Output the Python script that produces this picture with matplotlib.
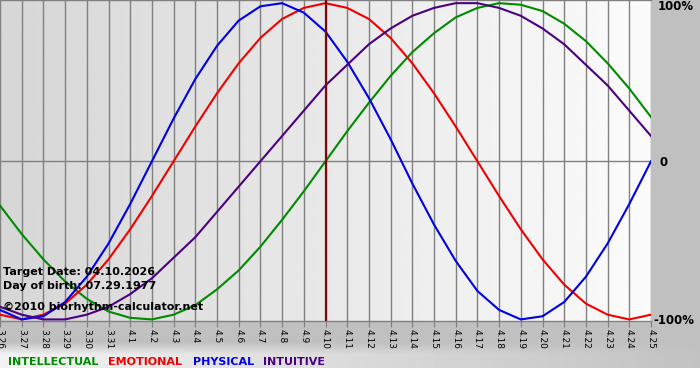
import numpy as np
import matplotlib
matplotlib.use("Agg")
import matplotlib.pyplot as plt

# days shown, 3.26 .. 4.25
dates = ["3.26", "3.27", "3.28", "3.29", "3.30", "3.31",
         "4.1", "4.2", "4.3", "4.4", "4.5", "4.6", "4.7", "4.8", "4.9", "4.10",
         "4.11", "4.12", "4.13", "4.14", "4.15", "4.16", "4.17", "4.18", "4.19",
         "4.20", "4.21", "4.22", "4.23", "4.24", "4.25"]
target_day = "4.10"

# cycle values (-1 .. 1)
intellectual = [-0.28, -0.46, -0.62, -0.76, -0.87, -0.95, -0.99, -1.00, -0.97, -0.91,
                -0.81, -0.69, -0.54, -0.37, -0.19, 0.00, 0.19, 0.37, 0.54, 0.69,
                0.81, 0.91, 0.97, 1.00, 0.99, 0.95, 0.87, 0.76, 0.62, 0.46, 0.28]
emotional = [-0.97, -1.00, -0.97, -0.90, -0.78, -0.62, -0.43, -0.22, 0.00, 0.22,
             0.43, 0.62, 0.78, 0.90, 0.97, 1.00, 0.97, 0.90, 0.78, 0.62,
             0.43, 0.22, 0.00, -0.22, -0.43, -0.62, -0.78, -0.90, -0.97, -1.00, -0.97]
physical = [-0.94, -1.00, -0.98, -0.89, -0.73, -0.52, -0.27, 0.00, 0.27, 0.52,
            0.73, 0.89, 0.98, 1.00, 0.94, 0.82, 0.63, 0.40, 0.14, -0.14,
            -0.40, -0.63, -0.82, -0.94, -1.00, -0.98, -0.89, -0.73, -0.52, -0.27, 0.00]
intuitive = [-0.92, -0.97, -1.00, -1.00, -0.97, -0.92, -0.84, -0.74, -0.61, -0.48,
             -0.32, -0.16, 0.00, 0.16, 0.32, 0.48, 0.61, 0.74, 0.84, 0.92,
             0.97, 1.00, 1.00, 0.97, 0.92, 0.84, 0.74, 0.61, 0.48, 0.32, 0.16]

series = [("INTELLECTUAL", intellectual, "#008a00"),
          ("EMOTIONAL", emotional, "#f00000"),
          ("PHYSICAL", physical, "#0000e6"),
          ("INTUITIVE", intuitive, "#4b0082")]
legend_x = [8, 108, 193, 263]

W, H = 700, 380
fig = plt.figure(figsize=(W / 100, H / 100), dpi=100)

# page background: grey, light band at the bottom
bg = fig.add_axes([0, 0, 1, 1], zorder=-10)
img = np.full((H, W), 0.753)
xs = np.linspace(0, 1, W)
band = 0.95 - 0.19 * xs
for r in range(342, 368):
    t = min(1.0, (r - 342) / 12.0)
    img[r] = 0.753 * (1 - t) + band * t
img[368:] = 1.0
bg.imshow(img, cmap="gray", vmin=0, vmax=1, aspect="auto",
          extent=[0, W, H, 0], interpolation="bilinear")
bg.set_xlim(0, W)
bg.set_ylim(H, 0)
bg.axis("off")

ax = fig.add_axes([0, 1 - 321 / H, 651 / W, 321 / H])
x = np.arange(len(dates))
ax.imshow(np.linspace(0.84, 0.985, 256).reshape(1, -1), cmap="gray", vmin=0, vmax=1,
          aspect="auto", extent=[0, len(dates) - 1, -1.02, 1.02], zorder=0)

for name, vals, col in series:
    ax.plot(x, vals, color=col, lw=1.5, zorder=4, solid_joinstyle="round")

ti = dates.index(target_day)
ax.axvline(ti, color="#7a0a0a", lw=1.6, zorder=5)
ax.axhline(0, color="#808080", lw=1.0, zorder=1)

ax.set_xlim(0, len(dates) - 1)
ax.set_ylim(-1.01, 1.02)
ax.set_xticks(x)
ax.set_xticklabels(dates, rotation=270, fontsize=6.5, va="top", ha="center")
ax.set_yticks([])
ax.grid(axis="x", color="#808080", lw=1.0, zorder=1)
ax.tick_params(axis="x", length=4, color="#808080", pad=2)
for s in ["left", "right"]:
    ax.spines[s].set_visible(False)
for s in ["top", "bottom"]:
    ax.spines[s].set_color("#808080")
    ax.spines[s].set_linewidth(1.0)

bold = dict(fontsize=8, fontweight="bold", color="black")
fig.text(3 / W, 1 - 272 / H, "Target Date: 04.10.2026", va="center", zorder=3, **bold)
fig.text(3 / W, 1 - 286 / H, "Day of birth: 07.29.1977", va="center", zorder=3, **bold)
fig.text(3 / W, 1 - 307 / H, "©2010 biorhythm-calculator.net", va="center", zorder=3, **bold)

fig.text(658 / W, 1 - 7 / H, "100%", va="center", fontsize=8.5, fontweight="bold")
fig.text(660 / W, 1 - 162 / H, "0", va="center", fontsize=8.5, fontweight="bold")
fig.text(653 / W, 1 - 321 / H, "-100%", va="center", fontsize=8.5, fontweight="bold")

for (name, vals, col), lx in zip(series, legend_x):
    fig.text(lx / W, 1 - 362 / H, name, color=col, va="center", fontsize=8, fontweight="bold")

fig.savefig("out.png", dpi=100)
